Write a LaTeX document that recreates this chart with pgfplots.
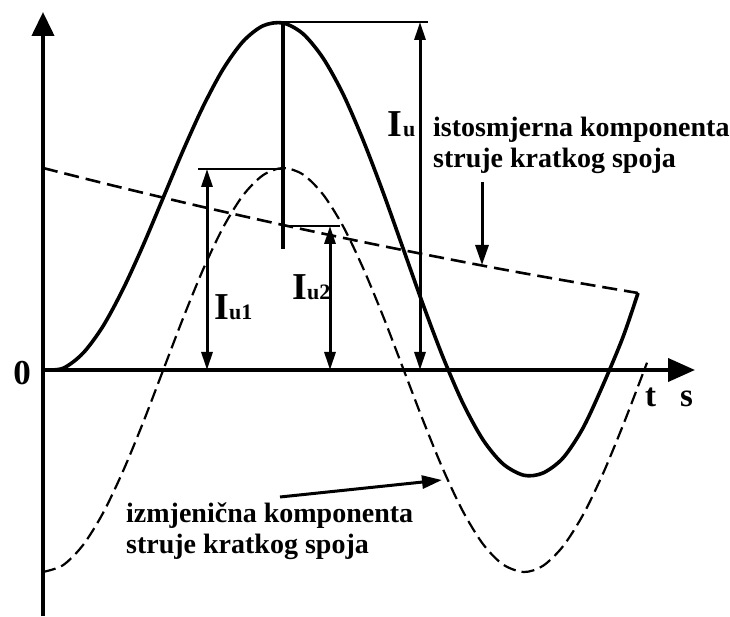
\documentclass[border=0pt]{standalone}
\usepackage{fontspec}
\setmainfont{Liberation Serif}
\usepackage{pgfplots}
\pgfplotsset{compat=1.18}
\usetikzlibrary{arrows.meta}

% 1 data unit = 1pt; t measured from the vertical axis, i from the t axis
\pgfplotstableread{
t   i
0   202
40  191.9
80  182.0
120 172.4
160 163.0
200 153.9
240 145.0
280 136.4
320 128.0
360 119.9
400 112.0
440 104.3
481 96.7
520 89.8
560 82.9
595 77.0
}\dccomp

\pgfplotstableread{
t   i
0   -202
20  -195.2
40  -175.1
60  -143.1
80  -101.2
100 -52.8
120 -0.6
140 51.6
160 100.3
180 142.3
200 174.6
220 194.8
240 202.0
260 195.5
280 175.6
300 143.9
320 102.1
340 54.0
360 1.9
380 -50.3
400 -99.2
420 -141.5
440 -174.1
460 -194.5
481 -202
500 -195.8
520 -176.3
540 -144.9
560 -103.6
580 -55.3
595 -16.4
604 7.3
}\accomp

\pgfplotstableread{
t   i
0   0
20  1.7
40  16.8
60  43.8
80  80.8
100 124.4
120 171.8
140 219.3
160 263.3
180 300.7
200 328.5
220 344.2
240 347.0
260 336.2
280 312.0
300 276.1
320 230.1
340 177.9
360 121.8
380 65.6
400 12.8
420 -33.4
440 -69.8
460 -93.9
481 -105.3
500 -103
520 -88
540 -58
560 -15
580 33
595 77
}\total

\tikzset{
  lbl/.style={anchor=base west,inner sep=0pt,font=\fontsize{28}{31}\selectfont\bfseries},
  bigI/.style={anchor=base west,inner sep=0pt,font=\fontsize{38}{38}\selectfont\bfseries},
  sub/.style={anchor=base west,inner sep=0pt,font=\fontsize{22}{22}\selectfont\bfseries},
  dim/.style={line width=3pt,{Triangle[length=18pt,width=11pt]}-{Triangle[length=18pt,width=11pt]}},
  ext/.style={line width=2.8pt}
}

\begin{document}
\begin{tikzpicture}
\begin{axis}[
  scale only axis,width=730pt,height=616pt,
  xmin=-43,xmax=687,ymin=-246,ymax=370,
  hide axis,clip=false]

% axes
\draw[line width=4pt,-{Triangle[length=24pt,width=22pt]}] (axis cs:0,-246) -- (axis cs:0,358);
\draw[line width=4pt,-{Triangle[length=27pt,width=23pt]}] (axis cs:0,0) -- (axis cs:652,0);

% components and total current
\addplot[black,line width=2.6pt,dash pattern=on 15pt off 7pt,smooth] table[x=t,y=i] {\dccomp};
\addplot[black,line width=2.2pt,dash pattern=on 13pt off 6pt,smooth] table[x=t,y=i] {\accomp};
\addplot[black,line width=3.6pt,smooth] table[x=t,y=i] {\total};

% extension lines
\draw[ext] (axis cs:240,348) -- (axis cs:385,348);
\draw[line width=3.2pt] (axis cs:240,348) -- (axis cs:240,121);
\draw[ext] (axis cs:240,144) -- (axis cs:297,144);
\draw[ext] (axis cs:155,201) -- (axis cs:240,201);

% dimension arrows
\draw[dim] (axis cs:377,0) -- (axis cs:377,348);
\draw[dim] (axis cs:164,0) -- (axis cs:164,201);
\draw[dim] (axis cs:287,0) -- (axis cs:287,144);

% labels
\node[bigI] at (axis cs:344,233) {I};
\node[sub] at (axis cs:360,233) {u};
\node[bigI] at (axis cs:171,50) {I};
\node[sub] at (axis cs:186,50) {u1};
\node[bigI] at (axis cs:249,70) {I};
\node[sub] at (axis cs:264,70) {u2};
\node[anchor=center,inner sep=0pt,font=\fontsize{35}{35}\selectfont\bfseries] at (axis cs:-21,-3) {0};
\node[anchor=base west,inner sep=0pt,font=\fontsize{33}{33}\selectfont\bfseries] at (axis cs:602,-36) {t};
\node[anchor=base west,inner sep=0pt,font=\fontsize{33}{33}\selectfont\bfseries] at (axis cs:637,-36) {s};

\node[lbl] at (axis cs:390,233) {istosmjerna komponenta};
\node[lbl] at (axis cs:390,202) {struje kratkog spoja};
\draw[line width=3pt,-{Triangle[length=20pt,width=13pt]}] (axis cs:439,188) -- (axis cs:439,105);

\node[lbl] at (axis cs:83,-152) {izmjenična komponenta};
\node[lbl] at (axis cs:83,-183) {struje kratkog spoja};
\draw[line width=3pt,-{Triangle[length=20pt,width=13pt]}] (axis cs:237,-127) -- (axis cs:399,-110);

\coordinate (sw) at (axis cs:-43,-246);
\coordinate (ne) at (axis cs:687,370);
\end{axis}
\pgfresetboundingbox
\path[use as bounding box] (sw) rectangle (ne);
\end{tikzpicture}
\end{document}
